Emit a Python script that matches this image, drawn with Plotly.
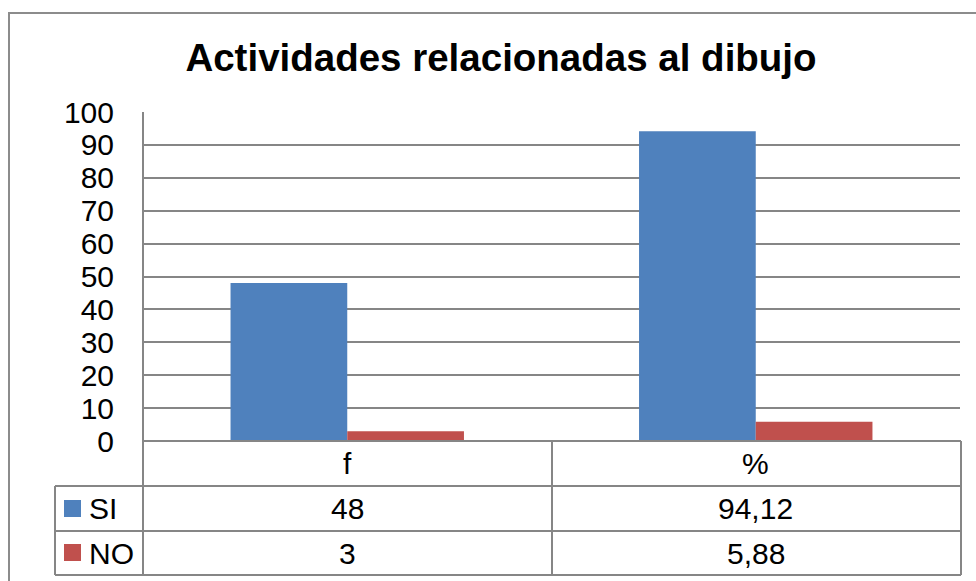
import plotly.graph_objects as go

categories = ["f", "%"]
si_values = [48, 94.12]
no_values = [3, 5.88]
series_names = ["SI", "NO"]
y_ticks = [0, 10, 20, 30, 40, 50, 60, 70, 80, 90, 100]
title_text = "Actividades relacionadas al dibujo"

BLUE = "#4F81BD"
RED = "#C0504D"
GRID = "#868686"
FONT = "Liberation Sans, Arial, sans-serif"

W, H = 976, 581
PL, PR, PT, PB = 143, 960, 112, 441  # plot area pixels


def fx(p):
    return (p - PL) / (PR - PL)


def fy(p):
    return (PB - p) / (PB - PT)


def fmt(v):
    s = ("%.2f" % v).rstrip("0").rstrip(".")
    return s.replace(".", ",")


fig = go.Figure()
fig.add_trace(go.Bar(x=categories, y=si_values, name=series_names[0],
                     marker=dict(color=BLUE, line=dict(width=0))))
fig.add_trace(go.Bar(x=categories, y=no_values, name=series_names[1],
                     marker=dict(color=RED, line=dict(width=0))))

shapes = []
line = dict(color=GRID, width=2)
# outer chart border
shapes.append(dict(type="rect", xref="paper", yref="paper",
                   x0=fx(9), x1=fx(990), y0=fy(13), y1=fy(600),
                   line=dict(color="#8c8c8c", width=2), layer="below"))
# table horizontal lines
for yy, x0 in [(441, 143), (486, 55), (531, 55), (575, 55)]:
    shapes.append(dict(type="line", xref="paper", yref="paper",
                       x0=fx(x0), x1=fx(961), y0=fy(yy), y1=fy(yy), line=line))
# vertical lines
for xx, y0, y1 in [(55, 486, 575), (143, 112, 575), (552, 441, 575), (961, 441, 575)]:
    shapes.append(dict(type="line", xref="paper", yref="paper",
                       x0=fx(xx), x1=fx(xx), y0=fy(y0), y1=fy(y1), line=line))
# legend keys
for color, yk in [(BLUE, 500), (RED, 544)]:
    shapes.append(dict(type="rect", xref="paper", yref="paper",
                       x0=fx(64), x1=fx(81), y0=fy(yk), y1=fy(yk + 17),
                       fillcolor=color, line=dict(width=0)))

annotations = []
tfont = dict(family=FONT, size=30, color="black")
for name, yc in zip(series_names, [508, 553]):
    annotations.append(dict(xref="paper", yref="paper", x=fx(87), y=fy(yc),
                            text=name, showarrow=False, xanchor="left",
                            yanchor="middle", font=tfont))
for i, cat in enumerate(categories):
    annotations.append(dict(xref="x", yref="paper", x=cat, y=fy(463),
                            text=cat, showarrow=False, yanchor="middle", font=tfont))
    annotations.append(dict(xref="x", yref="paper", x=cat, y=fy(508),
                            text=fmt(si_values[i]), showarrow=False,
                            yanchor="middle", font=tfont))
    annotations.append(dict(xref="x", yref="paper", x=cat, y=fy(553),
                            text=fmt(no_values[i]), showarrow=False,
                            yanchor="middle", font=tfont))

fig.update_layout(
    width=W, height=H,
    margin=dict(l=PL, r=W - PR, t=PT, b=H - PB, autoexpand=False),
    paper_bgcolor="white", plot_bgcolor="white",
    barmode="group", bargap=1.5 / 3.5, bargroupgap=0,
    showlegend=False,
    title=dict(text="<b>" + title_text + "</b>", xref="container", yref="container",
               x=501 / W, y=1 - 58 / H, xanchor="center", yanchor="middle",
               font=dict(family=FONT, size=38.5, color="black")),
    xaxis=dict(showticklabels=False, showline=False, showgrid=False,
               zeroline=False, ticks=""),
    yaxis=dict(range=[0, 100], tickvals=y_ticks, ticktext=[str(t) for t in y_ticks],
               showgrid=True, gridcolor=GRID, gridwidth=2,
               zeroline=True, zerolinecolor=GRID, zerolinewidth=2,
               showline=False, ticks="", ticklabelstandoff=28,
               tickfont=dict(family=FONT, size=30, color="black")),
    shapes=shapes, annotations=annotations,
)

fig.write_html("out.html", config={"displayModeBar": False},
               post_script="document.body.style.margin='0';document.body.style.overflow='hidden';")
